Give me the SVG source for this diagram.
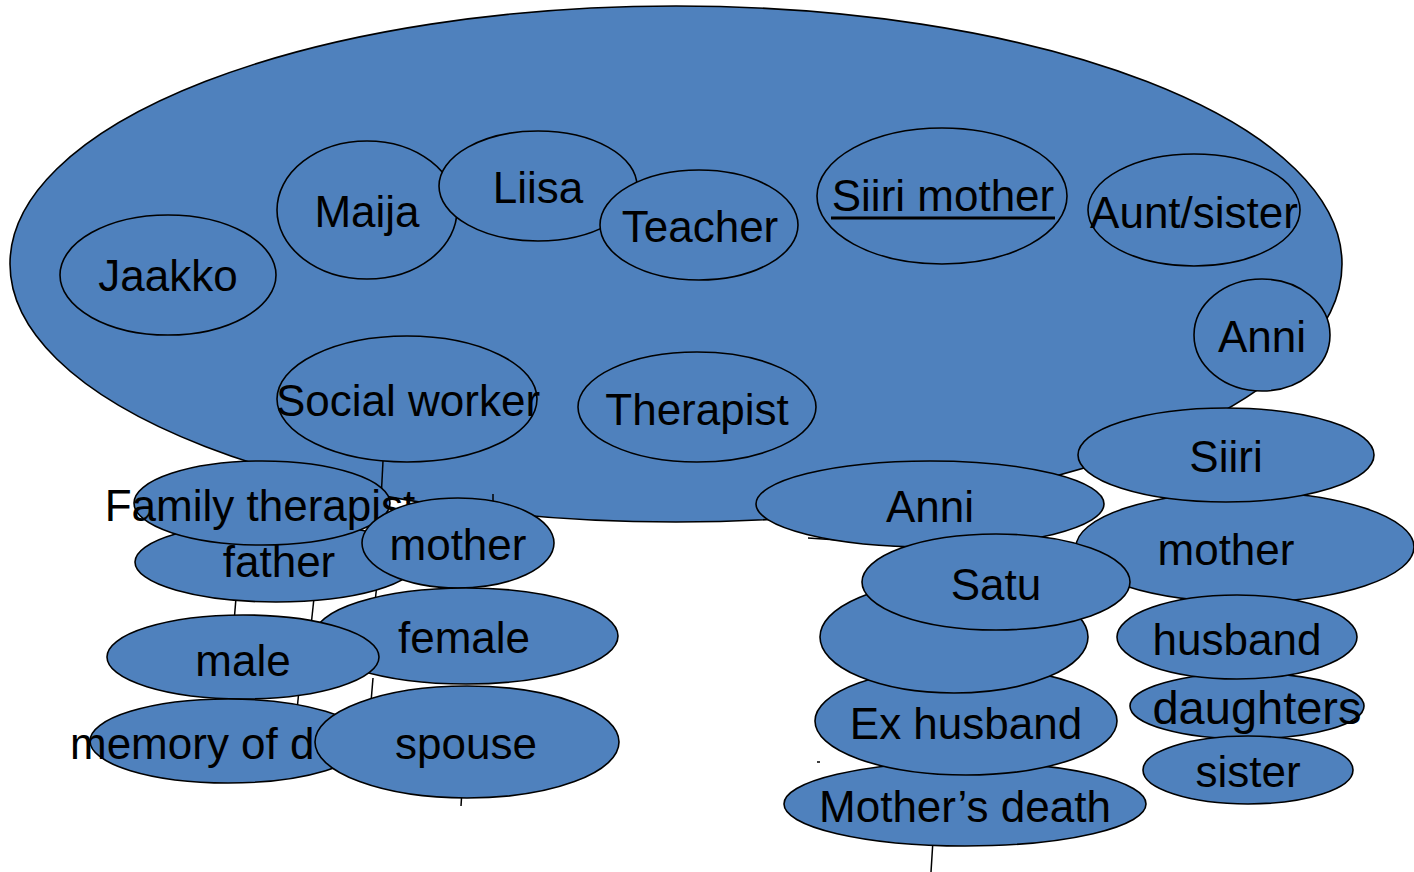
<svg xmlns="http://www.w3.org/2000/svg" width="1414" height="872" viewBox="0 0 1414 872">
<style>
  ellipse { fill: #4F81BD; stroke: #000; stroke-width: 1.6; }
  text { font-family: "Liberation Sans", Arial, sans-serif; font-size: 44px; fill: #000; text-anchor: middle; }
  .conn line { stroke: #000; stroke-width: 1.5; }
</style>
<rect width="1414" height="872" fill="#fff"/>
<g id="context"><ellipse cx="676" cy="264" rx="666" ry="258"/></g>
<g id="jaakko"><ellipse cx="168" cy="275" rx="108" ry="60"/><text x="168" y="291">Jaakko</text></g>
<g id="maija"><ellipse cx="367" cy="210" rx="90" ry="69"/><text x="367" y="227">Maija</text></g>
<g id="liisa"><ellipse cx="538" cy="186" rx="99" ry="55"/><text x="538" y="203">Liisa</text></g>
<g id="teacher"><ellipse cx="699" cy="225" rx="99" ry="55"/><text x="700" y="242">Teacher</text></g>
<g id="siiri-mother"><ellipse cx="942" cy="196" rx="125" ry="68"/><text x="943" y="211">Siiri mother</text><line x1="831" y1="218" x2="1055" y2="218" stroke="#000" stroke-width="3"/></g>
<g id="aunt-sister"><ellipse cx="1194" cy="210" rx="106" ry="56"/><text x="1194" y="228">Aunt/sister</text></g>
<g id="anni-top"><ellipse cx="1262" cy="335" rx="68" ry="56"/><text x="1262" y="352">Anni</text></g>
<g id="social-worker"><ellipse cx="407" cy="399" rx="130" ry="63"/><text x="408" y="416">Social worker</text></g>
<g id="therapist"><ellipse cx="697" cy="407" rx="119" ry="55"/><text x="697" y="425">Therapist</text></g>
<g id="connectors" class="conn">
  <line x1="383" y1="461" x2="381" y2="500"/>
  <line x1="493" y1="494" x2="493" y2="502"/>
  <line x1="236" y1="598" x2="234" y2="622"/>
  <line x1="314" y1="598" x2="311" y2="626"/>
  <line x1="377" y1="584" x2="375" y2="602"/>
  <line x1="373" y1="678" x2="371" y2="702"/>
  <line x1="299" y1="690" x2="297" y2="710"/>
  <line x1="462" y1="790" x2="461" y2="806"/>
  <path d="M808,538 Q860,541 905,547" fill="none" stroke="#000" stroke-width="1.5"/>
  <line x1="817" y1="762" x2="820" y2="762"/>
  <line x1="933" y1="840" x2="931" y2="872"/>
</g>
<g id="father"><ellipse cx="276" cy="562" rx="141" ry="40"/></g>
<g id="family-therapist"><ellipse cx="262" cy="503" rx="128" ry="42"/><text x="260" y="521">Family therapist</text></g>
<g id="father-label"><text x="279" y="577">father</text></g>
<g id="mother-left"><ellipse cx="458" cy="543" rx="96" ry="45"/><text x="458" y="560">mother</text></g>
<g id="female"><ellipse cx="466" cy="636" rx="152" ry="48"/><text x="464" y="653">female</text></g>
<g id="male"><ellipse cx="243" cy="657" rx="136" ry="42"/><text x="243" y="676">male</text></g>
<g id="memory"><ellipse cx="228" cy="741" rx="138" ry="42"/><text x="70" y="759" style="text-anchor:start">memory of d</text></g>
<g id="spouse"><ellipse cx="467" cy="742" rx="152" ry="56"/><text x="466" y="759">spouse</text></g>
<g id="mother-right"><ellipse cx="1245" cy="547" rx="169" ry="55"/><text x="1226" y="565">mother</text></g>
<g id="siiri"><ellipse cx="1226" cy="455" rx="148" ry="47"/><text x="1226" y="472">Siiri</text></g>
<g id="anni-bottom"><ellipse cx="930" cy="504" rx="174" ry="43"/><text x="930" y="522">Anni</text></g>
<g id="mothers-death"><ellipse cx="965" cy="804" rx="181" ry="42"/><text x="965" y="822">Mother’s death</text></g>
<g id="ex-husband"><ellipse cx="966" cy="721" rx="151" ry="54"/><text x="966" y="739">Ex husband</text></g>
<g id="blank"><ellipse cx="954" cy="637" rx="134" ry="56"/></g>
<g id="satu"><ellipse cx="996" cy="582" rx="134" ry="48"/><text x="996" y="600">Satu</text></g>
<g id="daughters"><ellipse cx="1247" cy="706" rx="117" ry="33"/><text x="1257" y="724" style="font-size:47px">daughters</text></g>
<g id="husband"><ellipse cx="1237" cy="637" rx="120" ry="42"/><text x="1237" y="655">husband</text></g>
<g id="sister"><ellipse cx="1248" cy="770" rx="105" ry="34"/><text x="1248" y="787">sister</text></g>
</svg>
